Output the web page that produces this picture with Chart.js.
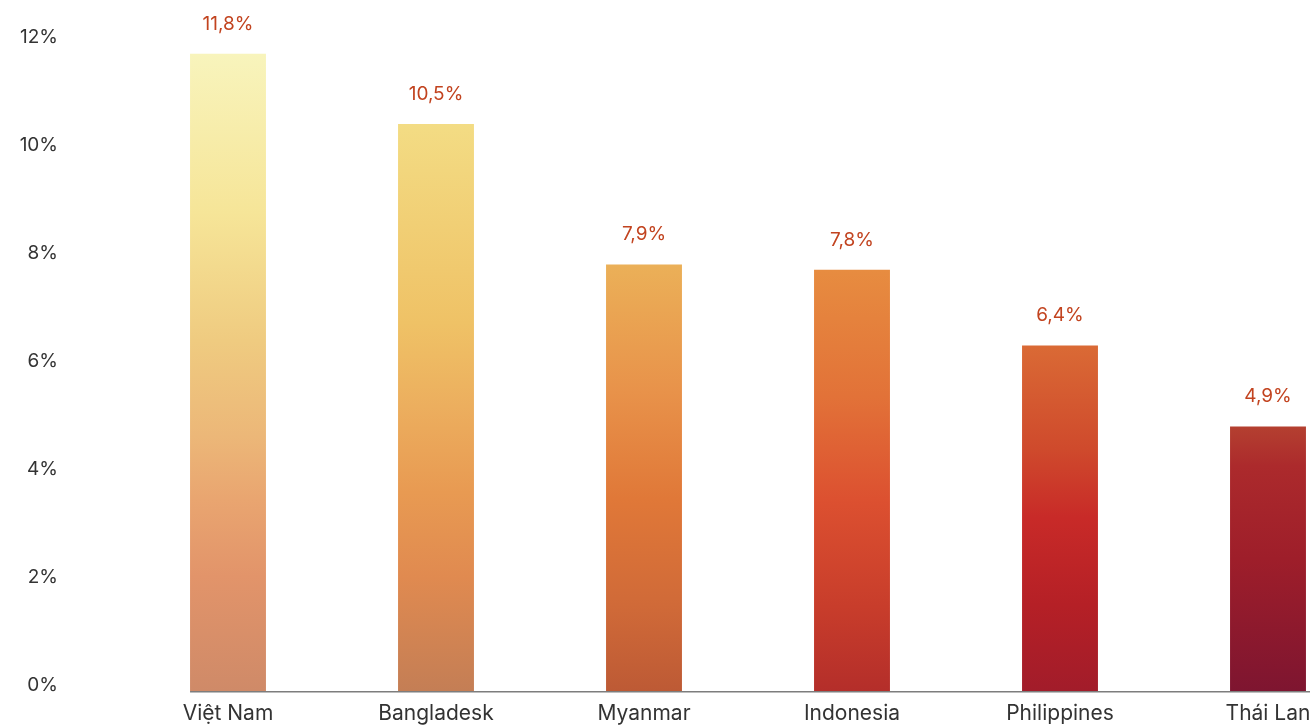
<!DOCTYPE html>
<html>
<head>
<meta charset="utf-8">
<script src="https://cdn.jsdelivr.net/npm/chart.js@4"></script>
<style>
  html, body { margin: 0; padding: 0; overflow: hidden; background: #fff; }
  #wrap { position: relative; width: 1372px; height: 727px; }
</style>
</head>
<body>
<div id="wrap"><canvas id="GrowthChart"></canvas></div>
<script>
  // data
  const countries = ['Việt Nam', 'Bangladesk', 'Myanmar', 'Indonesia', 'Philippines', 'Thái Lan'];
  const growth = [11.8, 10.5, 7.9, 7.8, 6.4, 4.9];
  const yTicks = [0, 2, 4, 6, 8, 10, 12];

  // colours for each bar, top -> bottom
  const barStops = [
    [[0, '#f8f4bc'], [0.25, '#f6e598'], [0.45, '#efcb80'], [0.6, '#ecb778'], [0.7, '#e9a570'], [0.82, '#e2946a'], [1, '#cf8a68']],
    [[0, '#f3dc84'], [0.35, '#efc266'], [0.5, '#ecae5e'], [0.65, '#e89a52'], [0.8, '#e08a50'], [1, '#c47e55']],
    [[0, '#ebb058'], [0.3, '#e8924a'], [0.55, '#e07838'], [0.8, '#d06a38'], [1, '#bd5a35']],
    [[0, '#e78c40'], [0.3, '#e27238'], [0.55, '#dc5030'], [0.8, '#c83d2b'], [1, '#b42e2a']],
    [[0, '#da6a35'], [0.3, '#cf4a2c'], [0.5, '#c82a28'], [0.75, '#b52026'], [1, '#a21c2a']],
    [[0, '#b44030'], [0.15, '#ac2a2c'], [0.5, '#9e1e2a'], [1, '#7e1530']]
  ];

  const FONT = 'Inter, "Noto Sans", sans-serif';

  function barFill(ctx) {
    const chart = ctx.chart;
    const area = chart.chartArea;
    if (!area || ctx.type !== 'data') return '#e9a570';
    const y = chart.scales.y;
    const top = y.getPixelForValue(growth[ctx.dataIndex]);
    const g = chart.ctx.createLinearGradient(0, top, 0, area.bottom);
    barStops[ctx.dataIndex].forEach(s => g.addColorStop(s[0], s[1]));
    return g;
  }

  // labels over bars + base line
  const extras = {
    id: 'extras',
    afterDatasetsDraw(chart) {
      const c = chart.ctx;
      const meta = chart.getDatasetMeta(0);
      const area = chart.chartArea;
      c.save();
      // axis line starts at the left edge of the first bar
      const first = meta.data[0].getProps(['x', 'width'], true);
      const x0 = first.x - first.width / 2;
      c.strokeStyle = '#7d7d7d';
      c.lineWidth = 1.5;
      c.beginPath();
      c.moveTo(x0, area.bottom + 0.75);
      c.lineTo(area.right, area.bottom + 0.75);
      c.stroke();
      // value labels
      c.fillStyle = '#c2431f';
      c.font = '19px ' + FONT;
      c.textAlign = 'center';
      c.textBaseline = 'middle';
      meta.data.forEach((bar, i) => {
        c.fillText(growth[i].toFixed(1).replace('.', ',') + '%', bar.x, bar.y - 30);
      });
      c.restore();
    }
  };

  const GrowthData = {
    labels: countries,
    datasets: [{
      label: 'Tăng trưởng',
      data: growth,
      backgroundColor: barFill,
      borderWidth: 0,
      barPercentage: 0.73,
      categoryPercentage: 0.5
    }]
  };

  const GrowthConfig = {
    type: 'bar',
    data: GrowthData,
    plugins: [extras],
    options: {
      responsive: true,
      maintainAspectRatio: false,
      animation: false,
      layout: { padding: { top: 43, left: 20, right: 0, bottom: 0 } },
      plugins: { legend: { display: false }, tooltip: { enabled: false } },
      scales: {
        x: {
          grid: { display: false, drawTicks: false },
          border: { display: false },
          ticks: {
            color: '#333',
            font: { family: FONT, size: 21 },
            padding: 10,
            maxRotation: 0,
            autoSkip: false
          },
          afterFit(scale) { scale.height = 36; }
        },
        y: {
          min: 0,
          max: 12,
          afterBuildTicks(scale) { scale.ticks = yTicks.map(v => ({ value: v })); },
          grid: { display: false, drawTicks: false },
          border: { display: false },
          ticks: {
            color: '#333',
            font: { family: FONT, size: 19 },
            padding: 66,
            labelOffset: -6,
            callback: v => v + '%'
          },
          // keep the label gap from pushing the plot down
          afterFit(scale) {
            scale.width = 104;
            scale.paddingTop = 0;
            scale.paddingBottom = 0;
          }
        }
      }
    }
  };

  const GrowthChart = new Chart(
    document.getElementById('GrowthChart'),
    GrowthConfig
  );
</script>
</body>
</html>
